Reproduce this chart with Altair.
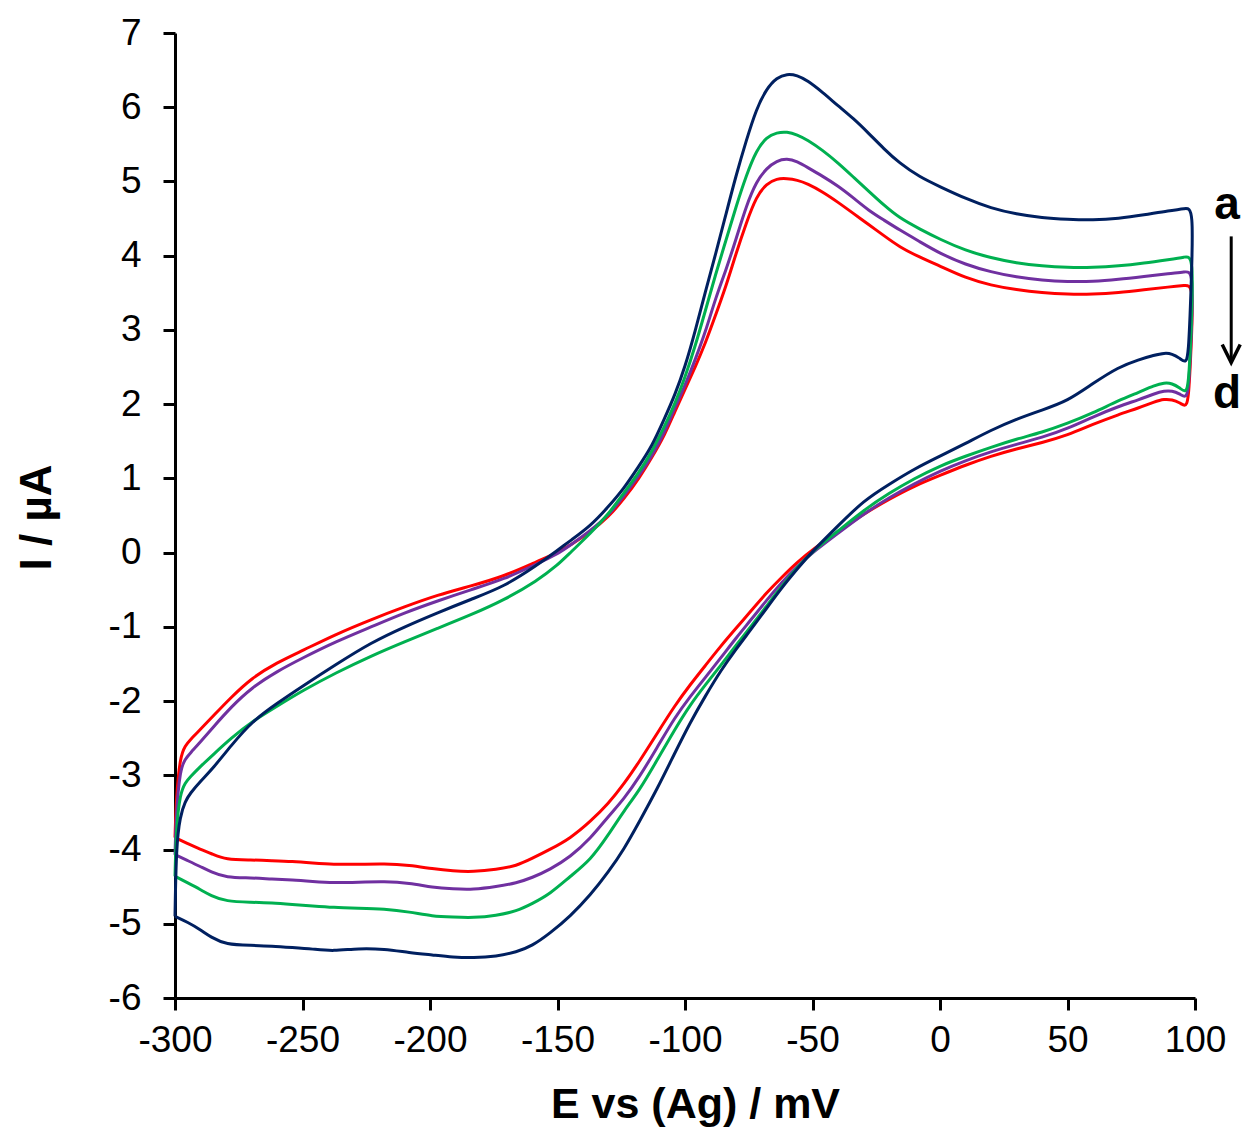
import altair as alt
import pandas as pd

# ---------------- data ----------------
CURVES = ["a", "b", "c", "d"]
COLORS = ["#002060", "#00B050", "#7030A0", "#FF0000"]

# forward (anodic) branch, -300 -> 100 mV
UPPER_E = [-300, -299.5, -298, -296, -294, -290, -285, -278, -270, -260,
           -250, -237, -223, -210, -197, -184, -171, -158, -150, -145,
           -137, -130, -124, -118, -113, -108, -104, -100, -96, -92,
           -88, -84, -80, -76, -72, -68, -64, -60, -56, -52,
           -46, -40, -34, -28, -22, -16, -8, 0, 10, 20,
           30, 40, 50, 60, 70, 80, 90, 96, 99.5]

# reverse (cathodic) branch, 100 -> -300 mV
LOWER_E = [98.5, 97.5, 96, 94, 91, 88, 84, 78, 70, 60,
           50, 40, 30, 20, 10, 0, -10, -20, -30, -40,
           -50, -56, -62, -68, -74, -80, -86, -92, -98, -104,
           -111, -118, -124, -130, -137, -145, -153, -160, -166, -174,
           -183, -191, -199, -208, -218, -228, -238, -246, -254, -262,
           -270, -280, -286, -290, -295, -300]

A_UP = [-4.90, -3.95, -3.55, -3.35, -3.24, -3.08, -2.90, -2.60, -2.28, -2.03,
        -1.80, -1.51, -1.21, -1.00, -0.81, -0.63, -0.46, -0.17, 0.03, 0.16,
        0.36, 0.62, 0.86, 1.17, 1.43, 1.81, 2.12, 2.50, 2.98, 3.52,
        4.02, 4.55, 5.08, 5.55, 5.98, 6.25, 6.40, 6.45, 6.43, 6.36,
        6.20, 6.02, 5.85, 5.65, 5.44, 5.25, 5.06, 4.93, 4.77, 4.64,
        4.56, 4.51, 4.49, 4.48, 4.50, 4.55, 4.61, 4.63, 4.66]
A_LOW = [3.60, 2.62, 2.56, 2.62, 2.68, 2.69, 2.66, 2.60, 2.50, 2.28,
         2.04, 1.92, 1.80, 1.65, 1.47, 1.30, 1.13, 0.92, 0.70, 0.36,
         0.02, -0.22, -0.47, -0.75, -1.03, -1.30, -1.59, -1.93, -2.29, -2.70,
         -3.19, -3.63, -4.00, -4.30, -4.61, -4.90, -5.13, -5.30, -5.38, -5.44,
         -5.46, -5.45, -5.42, -5.39, -5.34, -5.33, -5.37, -5.34, -5.32, -5.30,
         -5.29, -5.28, -5.18, -5.08, -4.98, -4.90]

B_UP = [-4.36, -3.70, -3.25, -3.10, -3.02, -2.88, -2.72, -2.50, -2.28, -2.07,
        -1.86, -1.62, -1.39, -1.20, -1.02, -0.84, -0.64, -0.38, -0.17, 0.00,
        0.26, 0.52, 0.80, 1.08, 1.36, 1.70, 2.00, 2.36, 2.78, 3.26,
        3.75, 4.20, 4.66, 5.08, 5.42, 5.60, 5.66, 5.67, 5.63, 5.56,
        5.42, 5.25, 5.06, 4.87, 4.68, 4.51, 4.36, 4.22, 4.07, 3.97,
        3.90, 3.86, 3.84, 3.84, 3.86, 3.90, 3.95, 3.98, 4.01]
B_LOW = [3.00, 2.22, 2.16, 2.22, 2.28, 2.29, 2.25, 2.16, 2.05, 1.88,
         1.74, 1.62, 1.53, 1.42, 1.30, 1.17, 1.00, 0.80, 0.57, 0.29,
         0.02, -0.20, -0.45, -0.72, -0.99, -1.25, -1.52, -1.78, -2.05, -2.38,
         -2.80, -3.21, -3.48, -3.80, -4.14, -4.36, -4.60, -4.73, -4.83, -4.89,
         -4.92, -4.91, -4.90, -4.84, -4.80, -4.79, -4.78, -4.76, -4.74, -4.72,
         -4.71, -4.70, -4.62, -4.54, -4.45, -4.36]

C_UP = [-4.07, -3.50, -2.92, -2.78, -2.70, -2.55, -2.35, -2.08, -1.82, -1.60,
        -1.42, -1.20, -1.00, -0.81, -0.65, -0.50, -0.36, -0.15, -0.02, 0.10,
        0.30, 0.50, 0.76, 1.04, 1.30, 1.62, 1.95, 2.25, 2.60, 2.97,
        3.43, 3.80, 4.22, 4.67, 5.00, 5.18, 5.28, 5.31, 5.27, 5.19,
        5.07, 4.94, 4.78, 4.61, 4.48, 4.35, 4.19, 4.03, 3.88, 3.78,
        3.71, 3.67, 3.65, 3.65, 3.68, 3.72, 3.76, 3.78, 3.80]
C_LOW = [2.90, 2.14, 2.09, 2.14, 2.18, 2.18, 2.14, 2.06, 1.97, 1.83,
         1.67, 1.55, 1.46, 1.36, 1.24, 1.10, 0.93, 0.74, 0.52, 0.26,
         0.00, -0.18, -0.40, -0.64, -0.90, -1.15, -1.42, -1.68, -1.94, -2.22,
         -2.63, -3.03, -3.32, -3.55, -3.85, -4.10, -4.27, -4.38, -4.45, -4.50,
         -4.54, -4.53, -4.51, -4.45, -4.43, -4.44, -4.45, -4.43, -4.41, -4.40,
         -4.38, -4.38, -4.30, -4.23, -4.15, -4.07]

D_UP = [-3.84, -3.30, -2.75, -2.60, -2.52, -2.38, -2.20, -1.95, -1.69, -1.48,
        -1.32, -1.10, -0.90, -0.73, -0.57, -0.45, -0.32, -0.12, 0.00, 0.10,
        0.28, 0.48, 0.72, 1.00, 1.28, 1.58, 1.90, 2.20, 2.50, 2.82,
        3.20, 3.58, 4.03, 4.44, 4.80, 4.97, 5.04, 5.04, 5.02, 4.97,
        4.86, 4.72, 4.57, 4.42, 4.27, 4.12, 3.98, 3.86, 3.70, 3.60,
        3.54, 3.50, 3.48, 3.48, 3.50, 3.54, 3.58, 3.60, 3.61]
D_LOW = [2.80, 2.02, 1.97, 2.02, 2.06, 2.07, 2.03, 1.95, 1.86, 1.73,
         1.58, 1.48, 1.40, 1.30, 1.18, 1.04, 0.90, 0.72, 0.52, 0.28,
         0.04, -0.13, -0.33, -0.54, -0.78, -1.02, -1.26, -1.52, -1.78, -2.06,
         -2.44, -2.82, -3.12, -3.38, -3.62, -3.85, -4.00, -4.12, -4.22, -4.27,
         -4.30, -4.29, -4.26, -4.21, -4.19, -4.20, -4.20, -4.18, -4.16, -4.15,
         -4.14, -4.14, -4.05, -4.00, -3.92, -3.84]

X_TICKS = [-300, -250, -200, -150, -100, -50, 0, 50, 100]
Y_TICKS = [-6, -5, -4, -3, -2, -1, 0, 1, 2, 3, 4, 5, 6, 7]

# annotation "a -> d"
LABEL_TEXT = ["a", "d"]
LABEL_E = [112.6, 112.6]
LABEL_I = [4.49, 1.95]
ARROW_E = 114.2
ARROW_TOP = 4.26
ARROW_TIP = 2.56

# ---------------- build table ----------------
series = {"a": (A_UP, A_LOW), "b": (B_UP, B_LOW), "c": (C_UP, C_LOW), "d": (D_UP, D_LOW)}
rows = []
for key in ["d", "c", "b", "a"]:  # draw red first, navy on top
    up, low = series[key]
    for i, (e, v) in enumerate(zip(UPPER_E + LOWER_E, up + low)):
        rows.append({"E": e, "I": v, "curve": key, "idx": i})
df = pd.DataFrame(rows)

FONT = "Liberation Sans"

x_scale = alt.Scale(domain=[-300, 100], nice=False, zero=False)
y_scale = alt.Scale(domain=[-6, 7], nice=False, zero=False)

x_axis = alt.Axis(values=X_TICKS, labelExpr="'' + datum.value", title="E vs (Ag) / mV",
                  grid=False, domainColor="black", domainWidth=3, tickColor="black",
                  tickWidth=3, tickSize=12, labelFont=FONT, labelFontSize=37,
                  labelColor="black", labelPadding=12, labelFlush=False, labelOverlap=False,
                  titleFont=FONT, titleFontSize=43, titleFontWeight="bold", titleColor="black",
                  titleX=520, titleY=119, titleBaseline="alphabetic", titleAlign="center")
y_axis = alt.Axis(values=Y_TICKS, labelExpr="'' + datum.value", title="I / µA",
                  grid=False, domainColor="black", domainWidth=3, tickColor="black",
                  tickWidth=3, tickSize=12, labelFont=FONT, labelFontSize=37,
                  labelColor="black", labelPadding=22, labelFlush=False, labelOverlap=False,
                  titleFont=FONT, titleFontSize=44, titleFontWeight="bold", titleColor="black",
                  titleX=-125, titleY=484, titleBaseline="alphabetic", titleAlign="center",
                  titleAngle=270)

lines = alt.Chart(df).mark_line(strokeWidth=3, interpolate="basis").encode(
    x=alt.X("E:Q", scale=x_scale, axis=x_axis),
    y=alt.Y("I:Q", scale=y_scale, axis=y_axis),
    color=alt.Color("curve:N", scale=alt.Scale(domain=CURVES, range=COLORS), legend=None),
    detail="curve:N",
    order="idx:Q",
)

lab_df = pd.DataFrame({"E": LABEL_E, "I": LABEL_I, "t": LABEL_TEXT})
labels = alt.Chart(lab_df).mark_text(font=FONT, fontSize=46, fontWeight="bold",
                                      color="black", align="center",
                                      baseline="alphabetic").encode(
    x=alt.X("E:Q", scale=x_scale), y=alt.Y("I:Q", scale=y_scale), text="t:N")

arr_df = pd.DataFrame({"E": [ARROW_E], "I": [ARROW_TOP], "I2": [ARROW_TIP]})
shaft = alt.Chart(arr_df).mark_rule(strokeWidth=3, color="black").encode(
    x=alt.X("E:Q", scale=x_scale), y=alt.Y("I:Q", scale=y_scale), y2="I2:Q")
head = alt.Chart(arr_df).mark_point(shape="M-0.5,-1L0,0L0.5,-1", size=1296, filled=False,
                                    strokeWidth=3.5, color="black", opacity=1).encode(
    x=alt.X("E:Q", scale=x_scale), y=alt.Y("I2:Q", scale=y_scale))

chart = alt.layer(lines, labels, shaft, head).properties(
    width=1020, height=965,
    autosize=alt.AutoSizeParams(type="none"),
    padding={"left": 167, "top": 25, "right": 47, "bottom": 130},
).configure_view(stroke=None)

chart.save("out.html", embed_options={"renderer": "svg", "actions": False})
